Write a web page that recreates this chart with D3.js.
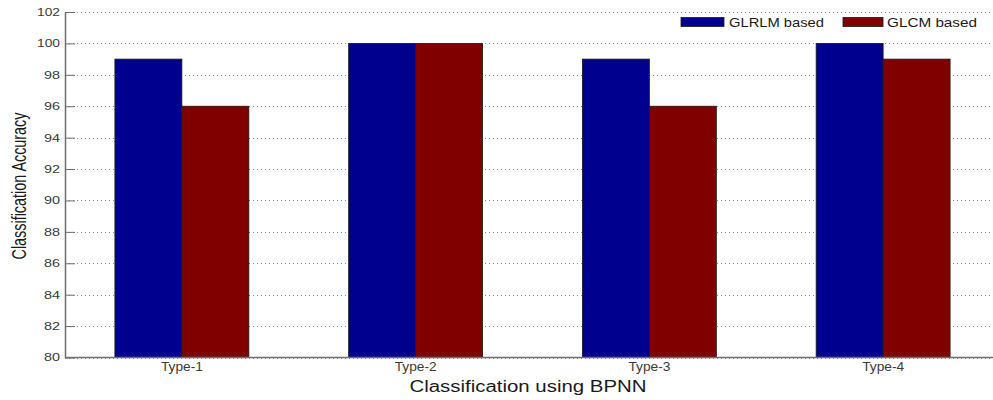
<!DOCTYPE html>
<html>
<head>
<meta charset="utf-8">
<script src="https://cdn.jsdelivr.net/npm/d3@7"></script>
<style>
  body { margin: 0; background: #fff; }
  svg { display: block; font-family: "Liberation Sans", Arial, sans-serif; }
</style>
</head>
<body>
<div id="chart"></div>
<script>
// chart values
const categories = ['Type-1', 'Type-2', 'Type-3', 'Type-4'];
const seriesNames = ['GLRLM based', 'GLCM based'];
const glrlm = [99, 100, 99, 100];
const glcm = [96, 100, 96, 99];
const yTicks = [80, 82, 84, 86, 88, 90, 92, 94, 96, 98, 100, 102];

const colors = ['#00008f', '#800000'];

const W = 993, H = 400;
const margin = { top: 12, left: 65, bottom: 42.5 };
// MATLAB axes run past the right edge of the picture
const plotRight = 1000;
const plotBottom = H - margin.bottom;

const svg = d3.select('#chart').append('svg')
  .attr('width', W)
  .attr('height', H);

const x = d3.scaleBand()
  .domain(categories)
  .range([margin.left, plotRight]);

const groupW = x.bandwidth() * 0.573;
const x1 = d3.scaleBand()
  .domain(seriesNames)
  .range([(x.bandwidth() - groupW) / 2, (x.bandwidth() + groupW) / 2]);

const y = d3.scaleLinear()
  .domain([80, 102])
  .range([plotBottom, margin.top]);

// dotted grid
svg.append('g')
  .selectAll('line')
  .data(yTicks)
  .enter().append('line')
  .attr('x1', margin.left)
  .attr('x2', W)
  .attr('y1', d => Math.round(y(d)) + 0.5)
  .attr('y2', d => Math.round(y(d)) + 0.5)
  .attr('stroke', '#8a8a8a')
  .attr('stroke-width', 1)
  .attr('stroke-dasharray', '1,3');

// bars
const rows = categories.map((c, i) => ({ cat: c, values: [glrlm[i], glcm[i]] }));

svg.append('g')
  .selectAll('g')
  .data(rows)
  .enter().append('g')
  .attr('transform', d => 'translate(' + x(d.cat) + ',0)')
  .selectAll('rect')
  .data(d => d.values.map((v, j) => ({ name: seriesNames[j], value: v, j: j })))
  .enter().append('rect')
  .attr('x', d => x1(d.name))
  .attr('width', x1.bandwidth())
  .attr('y', d => y(d.value))
  .attr('height', d => plotBottom - y(d.value))
  .attr('fill', d => colors[d.j])
  .attr('stroke', '#1a1a1a')
  .attr('stroke-width', 0.8);

// left axis with inward ticks
const yAxis = d3.axisLeft(y)
  .tickValues(yTicks)
  .tickSizeInner(-10)
  .tickSizeOuter(0)
  .tickPadding(15);

const gy = svg.append('g')
  .attr('transform', 'translate(' + margin.left + ',0)')
  .call(yAxis);
gy.select('.domain').attr('stroke', '#6e6e6e').attr('stroke-width', 1.5);
gy.selectAll('.tick line').attr('stroke', '#6e6e6e');
gy.selectAll('.tick text')
  .attr('fill', '#3a3a3a')
  .attr('font-size', 10.5)
  .attr('textLength', 23)
  .attr('lengthAdjust', 'spacingAndGlyphs')
  .attr('x', -5);
gy.selectAll('.tick text').filter(d => d < 100)
  .attr('textLength', 16);

// bottom axis
const xAxis = d3.axisBottom(x)
  .tickSize(0)
  .tickPadding(5);

const gx = svg.append('g')
  .attr('transform', 'translate(0,' + plotBottom + ')')
  .call(xAxis);
gx.select('.domain').remove();
gx.append('line')
  .attr('x1', margin.left)
  .attr('x2', W)
  .attr('stroke', '#6e6e6e')
  .attr('stroke-width', 1.5);
gx.selectAll('.tick text')
  .attr('fill', '#3a3a3a')
  .attr('font-size', 12)
  .attr('textLength', 42)
  .attr('lengthAdjust', 'spacingAndGlyphs');

// axis titles
svg.append('text')
  .attr('x', 528)
  .attr('y', 392)
  .attr('text-anchor', 'middle')
  .attr('font-size', 16)
  .attr('fill', '#1a1a1a')
  .attr('textLength', 237)
  .attr('lengthAdjust', 'spacingAndGlyphs')
  .text('Classification using BPNN');

svg.append('text')
  .attr('transform', 'translate(26,186) rotate(-90)')
  .attr('text-anchor', 'middle')
  .attr('font-size', 19.5)
  .attr('fill', '#1a1a1a')
  .attr('textLength', 147)
  .attr('lengthAdjust', 'spacingAndGlyphs')
  .text('Classification Accuracy');

// legend
const legend = svg.append('g');
legend.append('rect')
  .attr('x', 676).attr('y', 14)
  .attr('width', 310).attr('height', 16)
  .attr('fill', '#fff');

const legendPos = [
  { sx: 681, tx: 729, tw: 95 },
  { sx: 843, tx: 887, tw: 90 }
];
const items = legend.selectAll('g.item')
  .data(seriesNames)
  .enter().append('g')
  .attr('class', 'item');
items.append('rect')
  .attr('x', (d, i) => legendPos[i].sx)
  .attr('y', 17.5)
  .attr('width', (d, i) => i === 0 ? 43 : 40)
  .attr('height', 9)
  .attr('fill', (d, i) => colors[i])
  .attr('stroke', '#1a1a1a')
  .attr('stroke-width', 0.8);
items.append('text')
  .attr('x', (d, i) => legendPos[i].tx)
  .attr('y', 27)
  .attr('font-size', 13)
  .attr('fill', '#1a1a1a')
  .attr('textLength', (d, i) => legendPos[i].tw)
  .attr('lengthAdjust', 'spacingAndGlyphs')
  .text(d => d);
</script>
</body>
</html>
